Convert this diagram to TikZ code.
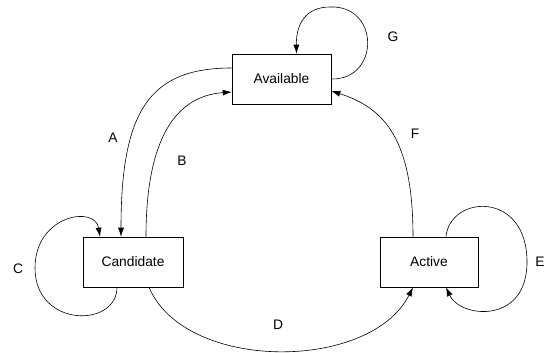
\documentclass[tikz,border=0pt]{standalone}
\usepackage{fontspec}
\setmainfont{Liberation Sans}
\usetikzlibrary{arrows.meta}
\begin{document}
\begin{tikzpicture}[x=1pt,y=-1pt,
  state/.style={draw=black,line width=0.6pt,rectangle,minimum height=50pt,inner sep=0pt,font=\fontsize{13.8}{16}\selectfont},
  lbl/.style={font=\fontsize{13.8}{16}\selectfont,inner sep=0pt},
  edge/.style={draw=black,line width=0.6pt},
  arr/.style={edge,-{Latex[length=9pt,width=6pt]}}]
\useasboundingbox (0,0) rectangle (546,353);
\node[state,minimum width=99pt] (avail) at (281.5,79) {Available};
\node[state,minimum width=100pt] (cand) at (133,262) {Candidate};
\node[state,minimum width=98pt] (act) at (429,262) {Active};
% A
\draw[arr] ([yshift=11pt]avail.west) .. controls (150,68) and (121,110) .. ([xshift=-12pt]cand.north);
% B
\draw[arr] ([xshift=13pt]cand.north) .. controls (146,140) and (175,96) .. ([yshift=-13pt]avail.west);
% C
\draw[arr] ([xshift=-16pt]cand.south) .. controls (117,328) and (35,328) .. (35,268) .. controls (35,215) and (95,205) .. ([xshift=-33pt]cand.north);
% D
\draw[arr] ([xshift=16pt]cand.south) .. controls (185,372) and (370,372) .. ([xshift=-16pt]act.south);
% E
\draw[arr] ([xshift=17pt]act.north) .. controls (450,195) and (527,190) .. (527,262) .. controls (527,325) and (460,318) .. ([xshift=17pt]act.south);
% F
\draw[arr] ([xshift=-16pt]act.north) .. controls (413,140) and (385,108) .. ([yshift=-12pt]avail.east);
% G
\draw[arr] (avail.east) .. controls (380,80) and (380,5) .. (330,7) .. controls (305,7) and (296,25) .. ([xshift=15pt]avail.north);
\node[lbl] (la) at (113,138) {A};
\node[lbl] (lb) at (182,161) {B};
\node[lbl] (lc) at (18,269) {C};
\node[lbl] (ld) at (278,325) {D};
\node[lbl] (le) at (540,262) {E};
\node[lbl] (lf) at (415,134) {F};
\node[lbl] (lg) at (393,37) {G};
\end{tikzpicture}
\end{document}
